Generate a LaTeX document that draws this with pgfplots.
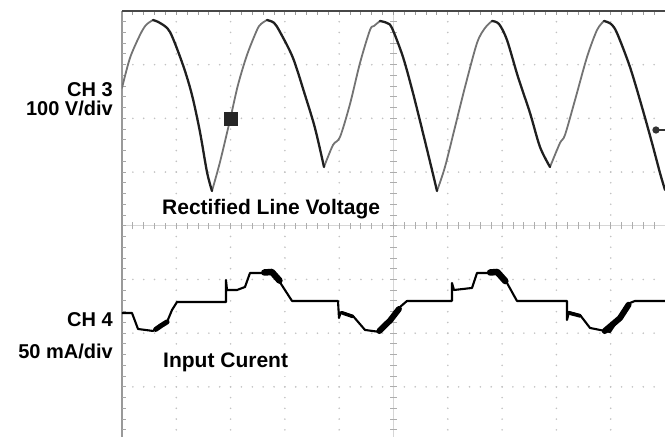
\documentclass[border=0pt]{standalone}
\usepackage{pgfplots}
\pgfplotsset{compat=1.18}
\usepackage{fontspec}
\setmainfont{Liberation Sans}
\begin{document}
\begin{tikzpicture}
% ---- scope graticule (x: 1 div = 54.3pt, y: 1 div = 53.7pt) ----
\begin{scope}[x=54.3pt,y=53.7pt,yshift=211.04pt]
  \foreach \gx in {1,2,3,4,6,7,8,9}{
    \foreach \k in {-19,...,19}{
      \fill[black!24] (\gx,\k*0.2) circle (0.9pt);
    }
  }
  \foreach \gy in {-3,-2,-1,1,2,3}{
    \foreach \k in {1,...,49}{
      \fill[black!24] (\k*0.2,\gy) circle (0.9pt);
    }
  }
  % centre lines with minor ticks
  \draw[black!16, line width=1pt] (5,-3.93) -- (5,4);
  \draw[black!16, line width=1pt] (0,0) -- (10,0);
  \foreach \k in {-19,...,19}{
    \draw[black!32, line width=0.9pt] ([xshift=-3.5pt]5,\k*0.2) -- ([xshift=3.5pt]5,\k*0.2);
  }
  \foreach \k in {1,...,49}{
    \draw[black!32, line width=0.9pt] ([yshift=-3.5pt]\k*0.2,0) -- ([yshift=3.5pt]\k*0.2,0);
  }
  % left border
  \draw[black!40, line width=1.5pt] (0,-3.93) -- (0,4);
  \foreach \k in {-19,...,19}{
    \draw[black!35, line width=0.9pt] (0,\k*0.2) -- ++(4pt,0);
  }
  % top border
  \foreach \k in {1,...,49}{
    \draw[black!40, line width=0.9pt] (\k*0.2,4) -- ++(0,-4pt);
  }
  \draw[black!72, line width=2pt] (0,4) -- (10,4);
  % labels on the left
  \node[anchor=base east, inner sep=0pt, font=\bfseries\fontsize{20}{24}\selectfont] at (-0.166,2.399) {CH 3};
  \node[anchor=base east, inner sep=0pt, font=\bfseries\fontsize{20}{24}\selectfont] at (-0.166,2.045) {100 V/div};
  \node[anchor=base east, inner sep=0pt, font=\bfseries\fontsize{20}{24}\selectfont] at (-0.166,-1.885) {CH 4};
  \node[anchor=base east, inner sep=0pt, font=\bfseries\fontsize{20}{24}\selectfont] at (-0.166,-2.480) {50 mA/div};
  % labels inside the screen
  \node[anchor=base west, fill=white, inner xsep=8pt, inner ysep=4pt, font=\bfseries\fontsize{21}{24}\selectfont] at (0.590,0.201) {Rectified Line Voltage};
  \node[anchor=base west, fill=white, inner xsep=8pt, inner ysep=4pt, font=\bfseries\fontsize{21}{24}\selectfont] at (0.608,-2.648) {Input Curent};
\end{scope}

\begin{axis}[
  at={(0pt,0pt)}, anchor=south west,
  scale only axis, width=543pt, height=425.8pt,
  xmin=0, xmax=10, ymin=-3.93, ymax=4,
  axis line style={draw=none}, ticks=none,
  clip=true,
]
% CH3: rising edges (lighter trace)
\addplot[black!55, line width=1.8pt, line join=round, line cap=round, smooth, tension=0.5] coordinates {
 (0,2.566) (0.147,3.125) (0.331,3.553) (0.442,3.739) (0.571,3.832)};
\addplot[black!55, line width=1.8pt, line join=round, line cap=round, smooth, tension=0.5] coordinates {
 (1.657,0.648) (1.805,1.188) (1.989,1.970) (2.136,2.622) (2.302,3.181) (2.486,3.646) (2.560,3.758) (2.670,3.832)};
\addplot[black!55, line width=1.8pt, line join=round, line cap=round, smooth, tension=0.5] coordinates {
 (3.720,1.095) (3.886,1.505) (4.015,1.654) (4.199,2.268) (4.383,3.032) (4.567,3.646) (4.641,3.721) (4.751,3.814)};
\addplot[black!55, line width=1.8pt, line join=round, line cap=round, smooth, tension=0.5] coordinates {
 (5.801,0.648) (5.948,1.095) (6.133,1.840) (6.317,2.585) (6.538,3.404) (6.685,3.683) (6.814,3.814)};
\addplot[black!55, line width=1.8pt, line join=round, line cap=round, smooth, tension=0.5] coordinates {
 (7.882,1.095) (8.066,1.542) (8.158,1.691) (8.343,2.343) (8.564,3.143) (8.748,3.646) (8.877,3.814)};
% CH3: falling edges (darker trace)
\addplot[black!88, line width=2.3pt, line join=round, line cap=round, smooth, tension=0.5] coordinates {
 (0.571,3.832) (0.700,3.777) (0.884,3.609) (1.123,2.994) (1.289,2.436) (1.436,1.747) (1.565,1.002) (1.657,0.648)};
\addplot[black!88, line width=2.3pt, line join=round, line cap=round, smooth, tension=0.5] coordinates {
 (2.670,3.832) (2.799,3.780) (2.910,3.609) (3.149,3.125) (3.370,2.436) (3.554,1.821) (3.720,1.095)};
\addplot[black!88, line width=2.3pt, line join=round, line cap=round, smooth, tension=0.5] coordinates {
 (4.751,3.814) (4.880,3.777) (4.972,3.683) (5.175,3.143) (5.359,2.473) (5.543,1.728) (5.709,1.039) (5.801,0.648)};
\addplot[black!88, line width=2.3pt, line join=round, line cap=round, smooth, tension=0.5] coordinates {
 (6.814,3.814) (6.943,3.758) (7.090,3.460) (7.293,2.771) (7.514,2.101) (7.698,1.467) (7.882,1.095)};
\addplot[black!88, line width=2.3pt, line join=round, line cap=round, smooth, tension=0.5] coordinates {
 (8.877,3.814) (9.006,3.758) (9.116,3.590) (9.355,2.957) (9.576,2.212) (9.761,1.542) (9.908,0.983) (10.0,0.667)};
% CH4: input current
\addplot[black, line width=2.1pt, line join=round] coordinates {
 (0,-1.624) (0.184,-1.624) (0.295,-1.922) (0.571,-1.959) (0.700,-1.847) (0.829,-1.791) (0.921,-1.568) (1.013,-1.419)
 (1.915,-1.419) (1.915,-1.009) (1.934,-1.196) (2.118,-1.196) (2.265,-1.140) (2.357,-0.879) (2.670,-0.879) (2.762,-0.823)
 (2.965,-1.140) (3.131,-1.400) (3.978,-1.400) (3.996,-1.717) (4.033,-1.605) (4.254,-1.680) (4.475,-1.940) (4.751,-1.978)
 (4.936,-1.754) (5.120,-1.512) (5.249,-1.400) (6.077,-1.400) (6.077,-1.065) (6.114,-1.196) (6.446,-1.158) (6.538,-0.879)
 (6.832,-0.879) (6.906,-0.823) (7.090,-1.065) (7.274,-1.400) (8.195,-1.400) (8.195,-1.754) (8.232,-1.605) (8.435,-1.661)
 (8.619,-1.903) (8.987,-1.978) (9.171,-1.698) (9.355,-1.438) (9.448,-1.400) (10,-1.400)
};
% CH4: noisy (thick) portions
\addplot[black, line width=5pt, line cap=round, line join=round] coordinates {(0.62,-1.93) (0.72,-1.86) (0.83,-1.79)};
\addplot[black, line width=6.5pt, line cap=round, line join=round] coordinates {(2.62,-0.87) (2.76,-0.86) (2.90,-1.02)};
\addplot[black, line width=3.5pt, line cap=round, line join=round] coordinates {(4.05,-1.62) (4.25,-1.69)};
\addplot[black, line width=6pt, line cap=round, line join=round] coordinates {(4.74,-1.96) (4.94,-1.76) (5.10,-1.55)};
\addplot[black, line width=6.5pt, line cap=round, line join=round] coordinates {(6.78,-0.87) (6.91,-0.86) (7.06,-1.03)};
\addplot[black, line width=3.5pt, line cap=round, line join=round] coordinates {(8.25,-1.63) (8.44,-1.68)};
\addplot[black, line width=6pt, line cap=round, line join=round] coordinates {(8.89,-1.96) (9.17,-1.72) (9.33,-1.47)};
% markers
\addplot[only marks, mark=square*, mark size=6.5pt, black!85] coordinates {(2,2)};
\addplot[black!80, line width=1.2pt, mark=*, mark size=3pt, mark repeat=2] coordinates {(9.834,1.784) (10,1.784)};
\end{axis}
\pgfresetboundingbox
\useasboundingbox (-122pt,0pt) rectangle (543pt,436.8pt);
\end{tikzpicture}
\end{document}
